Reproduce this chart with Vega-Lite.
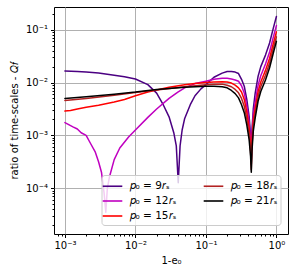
{
"$schema": "https://vega.github.io/schema/vega-lite/v6.json",
"width": 234, "height": 227,
"autosize": {"type": "none"},
"padding": {"left": 54, "top": 7, "right": 7, "bottom": 41},
"background": "white",
"config": {
  "view": {"stroke": "black", "strokeWidth": 1},
  "font": "DejaVu Sans",
  "axis": {"labelFont": "DejaVu Sans", "titleFont": "DejaVu Sans", "labelFontSize": 10, "titleFontSize": 10, "titleFontWeight": "normal", "labelColor": "black", "titleColor": "black", "tickColor": "black", "domain": false, "gridColor": "#b0b0b0", "gridWidth": 1, "labelOverlap": false, "labelFlush": false}
},
"data": {"values": [
{"p":"9","x":0.001,"y":0.0166},{"p":"9","x":0.0015,"y":0.0162},{"p":"9","x":0.002,"y":0.0158},{"p":"9","x":0.003,"y":0.0151},{"p":"9","x":0.005,"y":0.0138},{"p":"9","x":0.007,"y":0.0129},{"p":"9","x":0.01,"y":0.0117},{"p":"9","x":0.015,"y":0.00912},{"p":"9","x":0.02,"y":0.00631},{"p":"9","x":0.025,"y":0.00372},{"p":"9","x":0.03,"y":0.00224},{"p":"9","x":0.035,"y":0.00112},{"p":"9","x":0.038,"y":0.000631},{"p":"9","x":0.0405,"y":0.000126},{"p":"9","x":0.043,"y":0.000631},{"p":"9","x":0.046,"y":0.00126},{"p":"9","x":0.05,"y":0.00209},{"p":"9","x":0.06,"y":0.0038},{"p":"9","x":0.07,"y":0.00562},{"p":"9","x":0.085,"y":0.00759},{"p":"9","x":0.1,"y":0.00912},{"p":"9","x":0.13,"y":0.0126},{"p":"9","x":0.17,"y":0.0151},{"p":"9","x":0.2,"y":0.0162},{"p":"9","x":0.23,"y":0.0162},{"p":"9","x":0.26,"y":0.0158},{"p":"9","x":0.29,"y":0.0148},{"p":"9","x":0.32,"y":0.0115},{"p":"9","x":0.35,"y":0.00851},{"p":"9","x":0.38,"y":0.00479},{"p":"9","x":0.41,"y":0.00229},{"p":"9","x":0.43,"y":0.001},{"p":"9","x":0.44,"y":0.000501},{"p":"9","x":0.45,"y":0.00126},{"p":"9","x":0.47,"y":0.00316},{"p":"9","x":0.5,"y":0.00631},{"p":"9","x":0.55,"y":0.0132},{"p":"9","x":0.6,"y":0.02},{"p":"9","x":0.7,"y":0.0331},{"p":"9","x":0.8,"y":0.0562},{"p":"9","x":0.9,"y":0.105},{"p":"9","x":1.0,"y":0.178},
{"p":"12","x":0.001,"y":0.00174},{"p":"12","x":0.0013,"y":0.00145},{"p":"12","x":0.0015,"y":0.00132},{"p":"12","x":0.0017,"y":0.00112},{"p":"12","x":0.002,"y":0.001},{"p":"12","x":0.0023,"y":0.000708},{"p":"12","x":0.0027,"y":0.000479},{"p":"12","x":0.003,"y":0.000316},{"p":"12","x":0.0033,"y":0.0002},{"p":"12","x":0.0036,"y":0.0000794},{"p":"12","x":0.0038,"y":0.000035},{"p":"12","x":0.004,"y":0.0001},{"p":"12","x":0.0043,"y":0.000166},{"p":"12","x":0.005,"y":0.000347},{"p":"12","x":0.006,"y":0.000575},{"p":"12","x":0.008,"y":0.000933},{"p":"12","x":0.01,"y":0.00126},{"p":"12","x":0.015,"y":0.00219},{"p":"12","x":0.02,"y":0.00316},{"p":"12","x":0.03,"y":0.00501},{"p":"12","x":0.04,"y":0.00661},{"p":"12","x":0.05,"y":0.00794},{"p":"12","x":0.07,"y":0.00955},{"p":"12","x":0.1,"y":0.0106},{"p":"12","x":0.13,"y":0.0115},{"p":"12","x":0.17,"y":0.012},{"p":"12","x":0.2,"y":0.012},{"p":"12","x":0.23,"y":0.0117},{"p":"12","x":0.26,"y":0.0112},{"p":"12","x":0.29,"y":0.0106},{"p":"12","x":0.32,"y":0.00871},{"p":"12","x":0.35,"y":0.00631},{"p":"12","x":0.38,"y":0.00363},{"p":"12","x":0.41,"y":0.00178},{"p":"12","x":0.43,"y":0.000794},{"p":"12","x":0.44,"y":0.000355},{"p":"12","x":0.45,"y":0.001},{"p":"12","x":0.47,"y":0.0024},{"p":"12","x":0.5,"y":0.00427},{"p":"12","x":0.55,"y":0.00891},{"p":"12","x":0.6,"y":0.0135},{"p":"12","x":0.7,"y":0.0224},{"p":"12","x":0.8,"y":0.038},{"p":"12","x":0.9,"y":0.0708},{"p":"12","x":1.0,"y":0.12},
{"p":"15","x":0.001,"y":0.00288},{"p":"15","x":0.0012,"y":0.00295},{"p":"15","x":0.0015,"y":0.00316},{"p":"15","x":0.002,"y":0.00339},{"p":"15","x":0.003,"y":0.00372},{"p":"15","x":0.005,"y":0.00427},{"p":"15","x":0.007,"y":0.00479},{"p":"15","x":0.01,"y":0.00562},{"p":"15","x":0.015,"y":0.00661},{"p":"15","x":0.02,"y":0.00724},{"p":"15","x":0.03,"y":0.00813},{"p":"15","x":0.05,"y":0.00912},{"p":"15","x":0.07,"y":0.00955},{"p":"15","x":0.1,"y":0.01},{"p":"15","x":0.13,"y":0.0102},{"p":"15","x":0.17,"y":0.0104},{"p":"15","x":0.2,"y":0.0102},{"p":"15","x":0.23,"y":0.00977},{"p":"15","x":0.26,"y":0.00891},{"p":"15","x":0.29,"y":0.00794},{"p":"15","x":0.32,"y":0.00661},{"p":"15","x":0.35,"y":0.00479},{"p":"15","x":0.38,"y":0.00275},{"p":"15","x":0.41,"y":0.00138},{"p":"15","x":0.43,"y":0.000631},{"p":"15","x":0.44,"y":0.000282},{"p":"15","x":0.45,"y":0.000794},{"p":"15","x":0.47,"y":0.00191},{"p":"15","x":0.5,"y":0.00324},{"p":"15","x":0.55,"y":0.00676},{"p":"15","x":0.6,"y":0.0102},{"p":"15","x":0.7,"y":0.017},{"p":"15","x":0.8,"y":0.0288},{"p":"15","x":0.9,"y":0.0537},{"p":"15","x":1.0,"y":0.0912},
{"p":"18","x":0.001,"y":0.00457},{"p":"18","x":0.002,"y":0.00501},{"p":"18","x":0.005,"y":0.00575},{"p":"18","x":0.01,"y":0.00646},{"p":"18","x":0.02,"y":0.00724},{"p":"18","x":0.05,"y":0.00832},{"p":"18","x":0.1,"y":0.00912},{"p":"18","x":0.13,"y":0.00933},{"p":"18","x":0.17,"y":0.00933},{"p":"18","x":0.2,"y":0.00891},{"p":"18","x":0.23,"y":0.00832},{"p":"18","x":0.26,"y":0.00741},{"p":"18","x":0.29,"y":0.00638},{"p":"18","x":0.32,"y":0.00501},{"p":"18","x":0.35,"y":0.00355},{"p":"18","x":0.38,"y":0.00209},{"p":"18","x":0.41,"y":0.00107},{"p":"18","x":0.43,"y":0.000501},{"p":"18","x":0.44,"y":0.000224},{"p":"18","x":0.45,"y":0.000631},{"p":"18","x":0.47,"y":0.00151},{"p":"18","x":0.5,"y":0.00263},{"p":"18","x":0.55,"y":0.0055},{"p":"18","x":0.6,"y":0.00832},{"p":"18","x":0.7,"y":0.0138},{"p":"18","x":0.8,"y":0.0234},{"p":"18","x":0.9,"y":0.0437},{"p":"18","x":1.0,"y":0.0733},
{"p":"21","x":0.001,"y":0.00501},{"p":"21","x":0.002,"y":0.00537},{"p":"21","x":0.005,"y":0.00603},{"p":"21","x":0.01,"y":0.00661},{"p":"21","x":0.02,"y":0.00741},{"p":"21","x":0.05,"y":0.00813},{"p":"21","x":0.1,"y":0.00851},{"p":"21","x":0.13,"y":0.00851},{"p":"21","x":0.17,"y":0.00832},{"p":"21","x":0.2,"y":0.00794},{"p":"21","x":0.23,"y":0.00708},{"p":"21","x":0.26,"y":0.00617},{"p":"21","x":0.29,"y":0.00513},{"p":"21","x":0.32,"y":0.0038},{"p":"21","x":0.35,"y":0.00269},{"p":"21","x":0.38,"y":0.00158},{"p":"21","x":0.41,"y":0.000832},{"p":"21","x":0.43,"y":0.000398},{"p":"21","x":0.44,"y":0.0002},{"p":"21","x":0.45,"y":0.000501},{"p":"21","x":0.47,"y":0.0012},{"p":"21","x":0.5,"y":0.00214},{"p":"21","x":0.55,"y":0.00447},{"p":"21","x":0.6,"y":0.00676},{"p":"21","x":0.7,"y":0.0112},{"p":"21","x":0.8,"y":0.0191},{"p":"21","x":0.9,"y":0.0355},{"p":"21","x":1.0,"y":0.0603}
]},
"mark": {"type": "line", "strokeWidth": 1.5, "strokeJoin": "round", "strokeCap": "round", "clip": true},
"encoding": {
  "x": {"field": "x", "type": "quantitative",
    "scale": {"type": "log", "domain": [0.0007, 1.46], "nice": false},
    "axis": {"title": "1-e₀", "titlePadding": 5,
      "values": [0.0008,0.0009,0.001,0.002,0.003,0.004,0.005,0.006,0.007,0.008,0.009,0.01,0.02,0.03,0.04,0.05,0.06,0.07,0.08,0.09,0.1,0.2,0.3,0.4,0.5,0.6,0.7,0.8,0.9,1],
      "labelExpr": "datum.value == 0.001 ? '10⁻³' : datum.value == 0.01 ? '10⁻²' : datum.value == 0.1 ? '10⁻¹' : datum.value == 1 ? '10⁰' : ''",
      "labelPadding": 3,
      "tickSize": {"condition": {"test": "indexof([0.001,0.01,0.1,1], datum.value) >= 0", "value": 3.5}, "value": 2},
      "gridOpacity": {"condition": {"test": "indexof([0.001,0.01,0.1,1], datum.value) >= 0", "value": 1}, "value": 0}
    }},
  "y": {"field": "y", "type": "quantitative",
    "scale": {"type": "log", "domain": [0.0000135, 0.27], "nice": false},
    "axis": {"title": "ratio of time-scales - 𝑄𝑓", "titlePadding": 6,
      "values": [0.00002,0.00003,0.00004,0.00005,0.00006,0.00007,0.00008,0.00009,0.0001,0.0002,0.0003,0.0004,0.0005,0.0006,0.0007,0.0008,0.0009,0.001,0.002,0.003,0.004,0.005,0.006,0.007,0.008,0.009,0.01,0.02,0.03,0.04,0.05,0.06,0.07,0.08,0.09,0.1,0.2],
      "labelExpr": "datum.value == 0.0001 ? '10⁻⁴' : datum.value == 0.001 ? '10⁻³' : datum.value == 0.01 ? '10⁻²' : datum.value == 0.1 ? '10⁻¹' : ''",
      "labelPadding": 3,
      "tickSize": {"condition": {"test": "indexof([0.0001,0.001,0.01,0.1], datum.value) >= 0", "value": 3.5}, "value": 2},
      "gridOpacity": {"condition": {"test": "indexof([0.0001,0.001,0.01,0.1], datum.value) >= 0", "value": 1}, "value": 0}
    }},
  "color": {"field": "p", "type": "nominal",
    "scale": {"domain": ["9","12","15","18","21"], "range": ["#4b0082","#c000c0","#ff0000","#b22222","#000000"]},
    "legend": {"orient": "none", "legendX": 47.5, "legendY": 168, "columns": 2, "title": null,
      "symbolType": "M-1.4,0H1.4", "symbolSize": 196, "symbolStrokeWidth": 1.6,
      "labelExpr": "'𝑝₀ = ' + datum.label + '𝑟ₛ'", "labelFont": "DejaVu Sans", "labelFontSize": 10.5, "labelColor": "black", "labelOffset": 9,
      "padding": 3, "rowPadding": 1, "columnPadding": 24,
      "strokeColor": "#cccccc", "fillColor": "rgba(255,255,255,0.8)", "cornerRadius": 3}
  },
  "order": {"field": "p", "type": "quantitative"}
}
}
